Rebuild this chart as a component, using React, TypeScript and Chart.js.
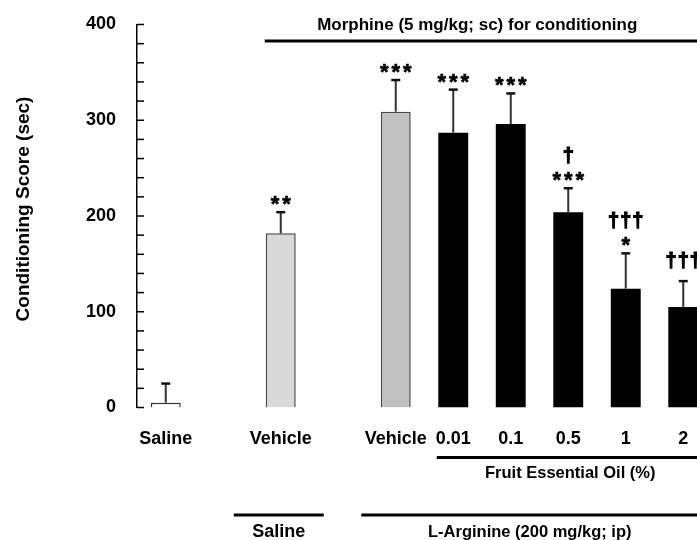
import React, { useEffect, useRef } from 'react';
import { Chart, registerables } from 'chart.js';

Chart.register(...registerables);

// ---- data ----
const categories = ['Saline', '', 'Vehicle', '', 'Vehicle', '0.01', '0.1', '0.5', '1', '2'];
const meanScores: (number | null)[] = [5, null, 182, null, 309, 287, 296, 204, 124, 105];
const semScores: (number | null)[] = [20, null, 22, null, 33, 45, 32, 25, 37, 27];
const starMarks = ['', '', '**', '', '***', '***', '***', '***', '*', ''];
const daggerMarks = ['', '', '', '', '', '', '', '†', '†††', '†††'];
const yTitle = 'Conditioning Score (sec)';
const topGroupLabel = 'Morphine (5 mg/kg; sc) for conditioning';
const oilGroupLabel = 'Fruit Essential Oil (%)';
const argGroupLabel = 'L-Arginine (200 mg/kg; ip)';
const salineGroupLabel = 'Saline';

// ---- styles ----
const FONT = "'Liberation Sans', Arial, sans-serif";
const barFills = ['#ffffff', '#ffffff', '#d9d9d9', '#ffffff', '#c0c0c0', '#000000', '#000000', '#000000', '#000000', '#000000'];
const barBorders = ['#333333', '#333333', '#444444', '#333333', '#444444', '#000000', '#000000', '#000000', '#000000', '#000000'];
const barBorderWidths = [1.5, 0, 1.5, 0, 1.5, 0, 0, 0, 0, 0];

const CANVAS_W = 730;
const CANVAS_H = 540;

const annotPlugin = {
  id: 'annotPlugin',
  afterDatasetsDraw(chart: any) {
    const { ctx } = chart;
    const x = chart.scales.x;
    const y = chart.scales.y;
    ctx.save();
    meanScores.forEach((m, i) => {
      if (m == null) return;
      const e = semScores[i] as number;
      const px = x.getPixelForValue(i);
      const pBase = y.getPixelForValue(m);
      const pTop = y.getPixelForValue(m + e);
      ctx.strokeStyle = '#333';
      ctx.lineWidth = 2;
      ctx.beginPath();
      ctx.moveTo(px, pBase);
      ctx.lineTo(px, pTop);
      ctx.stroke();
      ctx.strokeStyle = '#111';
      ctx.lineWidth = 2.5;
      ctx.beginPath();
      ctx.moveTo(px - 4.5, pTop);
      ctx.lineTo(px + 4.5, pTop);
      ctx.stroke();

      ctx.fillStyle = '#000';
      ctx.strokeStyle = '#000';
      ctx.textAlign = 'center';
      ctx.textBaseline = 'alphabetic';
      const stars = starMarks[i];
      if (stars) {
        ctx.font = `bold 22px ${FONT}`;
        (ctx as any).letterSpacing = '3px';
        ctx.lineWidth = 0.6;
        ctx.fillText(stars, px + 1.5, pTop - 1);
        ctx.strokeText(stars, px + 1.5, pTop - 1);
        (ctx as any).letterSpacing = '0px';
      }
      const dag = daggerMarks[i];
      if (dag) {
        ctx.font = `bold 20px ${FONT}`;
        (ctx as any).letterSpacing = '1px';
        ctx.lineWidth = 1.2;
        const c = stars ? pTop - 32 : pTop - 20;
        ctx.fillText(dag, px + 0.5, c + 5.5);
        ctx.strokeText(dag, px + 0.5, c + 5.5);
        (ctx as any).letterSpacing = '0px';
      }
    });
    ctx.restore();
  },
  afterDraw(chart: any) {
    const { ctx, chartArea } = chart;
    const x = chart.scales.x;
    const y = chart.scales.y;
    ctx.save();
    // inward minor/major ticks
    ctx.strokeStyle = '#000';
    ctx.lineWidth = 1.5;
    for (let v = 0; v <= 400; v += 20) {
      const py = y.getPixelForValue(v);
      ctx.beginPath();
      ctx.moveTo(chartArea.left, py);
      ctx.lineTo(chartArea.left + 7, py);
      ctx.stroke();
    }
    // y title
    ctx.fillStyle = '#000';
    ctx.font = `bold 19px ${FONT}`;
    ctx.textAlign = 'center';
    ctx.textBaseline = 'middle';
    ctx.save();
    ctx.translate(23.5, (chartArea.top + chartArea.bottom) / 2 - 7);
    ctx.rotate(-Math.PI / 2);
    ctx.fillText(yTitle, 0, 0);
    ctx.restore();

    const top = y.getPixelForValue(400);
    const right = chartArea.right;
    ctx.strokeStyle = '#000';
    ctx.lineWidth = 3;
    // morphine line
    ctx.beginPath();
    ctx.moveTo(x.getPixelForValue(2) - 16, top + 16.5);
    ctx.lineTo(right, top + 16.5);
    ctx.stroke();
    ctx.font = `bold 17px ${FONT}`;
    ctx.fillText(topGroupLabel, x.getPixelForValue(5) + 24, top + 1);

    // fruit oil line
    const b = chartArea.bottom;
    ctx.beginPath();
    ctx.moveTo(x.getPixelForValue(5) - 16.5, b + 50);
    ctx.lineTo(right, b + 50);
    ctx.stroke();
    ctx.font = `bold 16.5px ${FONT}`;
    ctx.fillText(oilGroupLabel, x.getPixelForValue(7) + 2, b + 66);

    // L-Arginine line
    ctx.beginPath();
    ctx.moveTo(x.getPixelForValue(4) - 34.5, b + 107.5);
    ctx.lineTo(right, b + 107.5);
    ctx.stroke();
    ctx.fillText(argGroupLabel, x.getPixelForValue(6) + 19, b + 124.5);

    // Saline (bottom) line
    ctx.beginPath();
    ctx.moveTo(x.getPixelForValue(2) - 47, b + 107.5);
    ctx.lineTo(x.getPixelForValue(2) + 43, b + 107.5);
    ctx.stroke();
    ctx.font = `bold 18px ${FONT}`;
    ctx.fillText(salineGroupLabel, x.getPixelForValue(2) - 2, b + 124.5);
    ctx.restore();
  },
};

export default function App() {
  const canvasRef = useRef<HTMLCanvasElement | null>(null);

  useEffect(() => {
    if (!canvasRef.current) return;
    const chart = new Chart(canvasRef.current, {
      type: 'bar',
      data: {
        labels: categories,
        datasets: [
          {
            data: meanScores as any,
            backgroundColor: barFills,
            borderColor: barBorders,
            borderWidth: barBorderWidths,
            barPercentage: 0.52,
            categoryPercentage: 1,
          },
        ],
      },
      options: {
        responsive: false,
        animation: false,
        events: [],
        layout: { padding: { left: 0, right: CANVAS_W - 712, top: 24.5, bottom: 0 } },
        plugins: { legend: { display: false }, tooltip: { enabled: false }, title: { display: false } },
        scales: {
          x: {
            type: 'category',
            offset: true,
            grid: { display: false, drawTicks: false },
            border: { display: false },
            ticks: {
              autoSkip: false,
              maxRotation: 0,
              minRotation: 0,
              padding: 21,
              color: '#000',
              font: { family: FONT, size: 18, weight: 'bold' },
            },
            afterFit: (scale: any) => {
              scale.height = CANVAS_H - 407.5;
            },
          },
          y: {
            min: 0,
            max: 400,
            grid: { display: false, drawTicks: true, tickLength: 21 },
            border: { display: true, color: '#000', width: 1.5 },
            ticks: {
              stepSize: 100,
              padding: 0,
              color: '#000',
              font: { family: FONT, size: 18, weight: 'bold' },
            },
            afterFit: (scale: any) => {
              scale.width = 137;
            },
          },
        },
      },
      plugins: [annotPlugin],
    });
    return () => chart.destroy();
  }, []);

  return (
    <div style={{ position: 'fixed', left: 0, top: 0, width: 697, height: 540, overflow: 'hidden', background: '#fff' }}>
      <canvas ref={canvasRef} width={CANVAS_W} height={CANVAS_H} style={{ display: 'block' }} />
    </div>
  );
}
